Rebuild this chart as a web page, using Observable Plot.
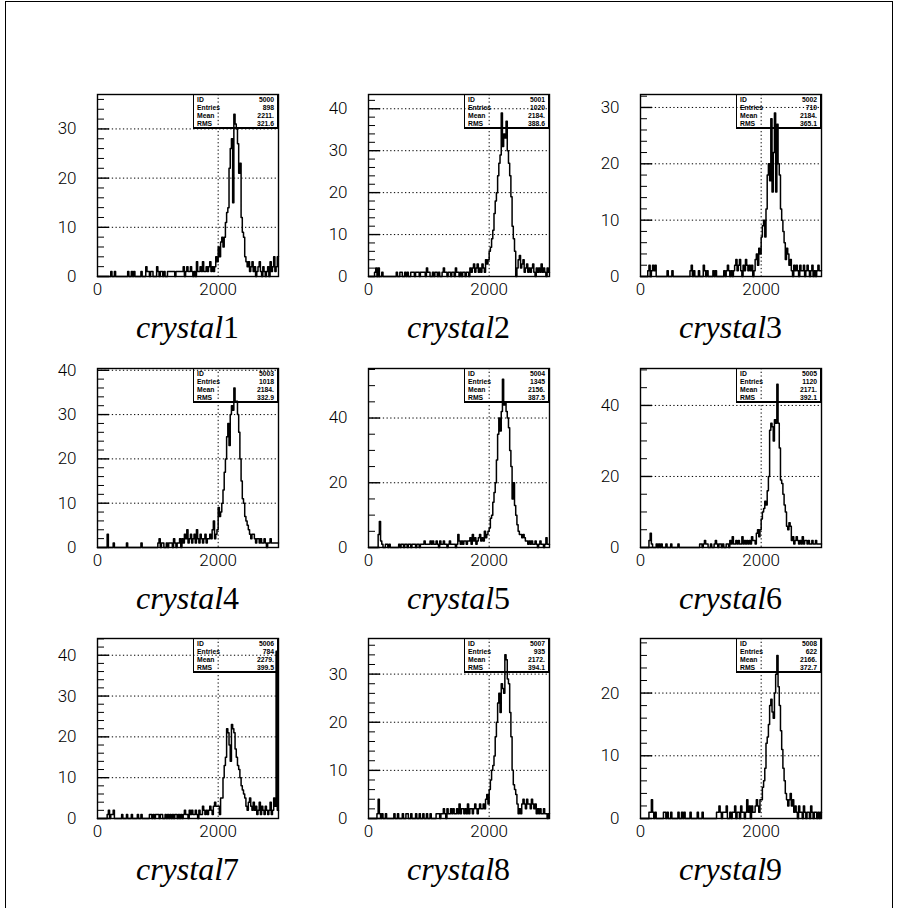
<!DOCTYPE html>
<html><head><meta charset="utf-8">
<script src="https://cdn.jsdelivr.net/npm/d3@7"></script>
<script src="https://cdn.jsdelivr.net/npm/@observablehq/plot@0.6"></script>
<style>
body{margin:0;background:#fff;}
#root{position:relative;width:898px;height:908px;overflow:hidden;background:#fff;}
.border{position:absolute;left:5px;top:1px;width:888px;height:940px;border:1px solid #000;box-sizing:border-box;}
.pl{position:absolute;z-index:2;}
.stats{position:absolute;z-index:1;border:1.2px solid #000;border-bottom-width:2px;background:#fff;box-sizing:border-box;font:bold 6.8px "Liberation Sans",Arial,sans-serif;padding-top:1px;color:#000;}
.stats div{display:flex;justify-content:space-between;height:8px;line-height:8px;padding:0 3px 0 3px;}
.lab{position:absolute;z-index:3;font:32px "Liberation Serif","Times New Roman",serif;text-align:center;width:240px;line-height:32px;white-space:nowrap;color:#000;}
.lab i{font-style:italic;}
</style></head>
<body>
<div id="root"><div class="border"></div></div>
<script>
// bin width 20, range 0..3000 (150 bins)
const binWidth = 20;
const counts1 = [
0,0,0,0,0,0,0,0,0,0, 0,1,0,0,1,0,0,0,0,0, 0,0,0,0,0,1,0,0,1,0, 1,0,0,0,0,0,1,0,0,0, 2,1,1,0,1,1,0,0,0,2,
1,0,1,1,0,1,0,0,1,1, 1,1,1,1,0,1,1,1,1,1, 1,2,0,1,2,1,1,2,1,0, 1,0,3,1,1,2,1,3,1,1, 2,1,2,3,1,2,1,2,4,3,
6,4,7,8,6,8,11,13,14,22, 26,28,15,33,31,30,27,21,23,12, 9,8,4,3,2,3,1,2,3,1, 2,0,1,2,3,1,0,2,1,0, 1,2,0,3,1,2,4,1,2,4];
const counts2 = [
0,0,0,0,0,1,2,0,2,0, 0,1,0,0,0,0,0,0,0,0, 0,0,0,1,0,0,1,1,0,0, 1,0,1,0,0,1,1,1,0,1, 1,1,0,1,1,1,1,0,2,1,
1,0,0,1,0,1,1,0,1,0, 0,1,2,1,1,0,1,1,0,1, 1,0,2,1,1,0,1,0,1,1, 0,1,1,0,2,1,2,3,1,2, 3,1,2,1,3,2,1,4,3,4,
6,7,9,11,15,18,20,24,27,29, 39,31,34,33,37,30,27,24,19,12, 9,6,0,2,4,5,2,3,4,1, 2,3,1,2,1,2,3,1,0,2, 1,2,1,3,1,2,1,0,2,1];
const counts3 = [
0,0,0,0,0,0,1,2,0,1, 2,1,2,0,0,0,0,0,0,0, 0,0,1,0,0,0,1,0,0,0, 0,0,0,0,0,0,0,0,0,0, 0,1,2,0,1,0,0,0,1,0,
0,0,2,1,0,1,0,0,0,0, 1,0,1,0,0,0,0,0,0,1, 0,1,2,1,0,1,0,1,2,3, 1,2,3,1,0,2,1,3,2,1, 2,1,2,0,1,3,4,2,5,4,
7,9,10,7,12,18,20,17,28,15, 22,29,15,27,20,18,12,10,8,6, 3,5,4,2,3,1,0,2,1,2, 1,0,2,1,1,2,0,1,2,1, 0,1,2,0,1,0,1,2,1,1];
const counts4 = [
0,0,0,0,0,0,0,0,3,0, 0,0,0,1,0,0,0,0,0,0, 0,0,0,0,1,0,0,0,0,0, 0,0,0,0,0,0,1,0,0,0, 0,0,0,0,0,0,0,0,0,0,
1,2,0,1,1,0,0,1,0,1, 1,1,0,2,1,0,1,1,2,0, 2,1,3,2,4,1,2,3,1,2, 3,1,4,2,1,3,2,1,2,3, 1,2,2,3,2,4,6,2,3,4,
9,7,8,10,13,17,20,25,28,23, 30,32,31,36,33,33,30,26,20,15, 11,10,7,6,5,4,3,2,3,3, 2,1,2,2,1,2,1,1,2,1, 0,1,1,2,1,1,1,1,1,1];
const counts5 = [
0,0,0,0,0,0,0,0,4,8, 2,1,0,0,1,1,0,1,0,0, 0,0,0,0,0,1,0,1,1,0, 1,1,0,1,1,0,1,1,1,0, 1,1,0,1,1,1,2,1,1,1,
1,2,1,2,1,1,2,1,0,2, 1,1,2,1,1,0,1,2,1,1, 1,1,0,1,4,2,1,2,1,2, 2,1,2,2,3,1,4,2,3,1, 2,3,4,2,3,2,5,3,4,5,
6,9,10,14,17,20,27,35,40,36, 42,52,44,45,42,40,37,30,25,15, 20,13,10,7,5,4,4,3,4,3, 2,2,1,2,1,2,1,1,2,1, 0,1,2,1,1,0,1,3,1,1];
const counts6 = [
0,0,0,0,0,0,0,2,4,1, 0,0,0,1,0,1,0,1,0,0, 0,1,0,0,0,1,0,0,0,0, 0,1,0,0,0,0,0,0,0,0, 0,0,0,0,0,0,0,0,0,1,
1,0,1,2,1,1,0,0,1,0, 0,1,2,1,0,1,1,0,1,0, 0,1,1,0,2,1,3,1,1,2, 1,2,1,1,3,1,2,1,2,1, 2,1,3,2,2,1,4,5,3,5,
8,10,11,13,12,16,20,33,35,34, 30,36,35,46,35,28,19,18,15,12, 10,6,5,7,6,2,3,1,2,3, 2,1,2,1,3,1,2,2,1,2, 1,1,2,1,1,2,1,1,1,1];
const counts7 = [
0,0,0,0,0,0,0,0,1,2, 0,1,1,2,0,0,0,0,0,0, 1,0,0,0,1,0,0,0,1,0, 0,0,0,1,0,0,1,0,0,0, 0,0,0,1,1,0,1,0,1,1,
1,0,1,1,0,0,1,0,1,0, 1,0,1,0,1,1,0,1,0,1, 0,1,2,1,1,0,2,1,2,1, 1,2,1,0,2,1,1,3,2,1, 2,1,2,3,2,1,3,4,3,3,
3,1,5,5,10,13,15,22,21,18, 14,23,22,21,17,15,13,12,10,8, 7,6,5,3,2,4,5,3,2,4, 2,3,1,2,4,1,3,2,1,3, 2,1,2,4,1,2,5,3,41,2];
const counts8 = [
0,0,0,0,0,0,0,1,4,1, 0,1,0,0,1,0,0,0,0,0, 0,1,0,0,1,0,0,0,1,0, 0,1,1,0,0,1,0,0,0,1, 0,0,1,0,0,1,0,0,1,0,
0,1,0,0,0,0,1,1,1,0, 1,1,2,1,0,2,1,1,2,1, 2,1,1,2,1,3,1,2,2,1, 2,1,3,1,2,2,1,2,3,2, 1,2,3,2,2,3,2,4,5,3,
6,8,10,11,13,17,20,24,26,22, 28,27,26,34,33,29,28,22,17,10, 7,6,5,3,1,2,1,3,4,3, 2,4,3,3,2,4,3,2,3,1, 2,1,2,1,1,2,1,1,0,1];
const counts9 = [
0,0,0,0,0,0,0,1,1,3, 1,0,1,0,0,0,0,0,0,1, 1,0,1,0,0,1,0,0,0,0, 0,1,0,0,1,0,1,0,0,0, 0,1,0,0,0,0,0,1,0,0,
0,1,0,0,0,0,0,0,0,0, 0,0,0,1,1,2,1,0,1,1, 1,2,0,0,1,0,1,1,2,0, 1,1,0,2,1,1,0,1,3,1, 2,0,2,1,1,2,3,2,1,3,
3,5,6,8,12,13,15,18,19,17, 16,20,23,26,21,18,14,11,8,6, 4,3,2,3,4,2,3,1,2,1, 0,2,1,1,0,2,1,0,1,1, 0,2,1,0,1,1,0,1,0,1];

const allCounts = [counts1,counts2,counts3,counts4,counts5,counts6,counts7,counts8,counts9];
const ids = ["5000","5001","5002","5003","5004","5005","5006","5007","5008"];
const entries = ["898","1020","710","1018","1345","1120","784","935","622"];
const means = ["2211.","2184.","2184.","2184.","2156.","2171.","2279.","2172.","2166."];
const rmss = ["321.6","388.6","365.1","332.9","387.5","392.1","399.5","394.1","372.7"];
const labels = ["1","2","3","4","5","6","7","8","9"];
const yMax = [37, 43.4, 32.3, 40.4, 55.3, 50.4, 44.1, 37.4, 28.7];
const yMajor = [10,10,10,10,20,20,10,10,10];
const yMinor = [2,2,2,2,5,5,2,2,2];
const xTicks = [0, 2000];
const xDomain = [0, 3000];

const root = document.getElementById("root");
const colX = [97, 368, 640];
const rowY = [94, 368, 638];
const rowH = [182, 179, 180];
const FW = 181;
const ML = 50, MT = 10, MR = 12, MB = 30;

allCounts.forEach((counts, k) => {
  const r = Math.floor(k / 3);
  const fx = colX[k % 3], fy = rowY[r], FH = rowH[r];
  const pts = counts.map((c, i) => ({x: i * binWidth, y: c}));
  pts.push({x: counts.length * binWidth, y: counts[counts.length - 1]});
  const major = d3.range(0, yMax[k] + 1e-9, yMajor[k]);
  const minor = d3.range(0, yMax[k], yMinor[k]).filter(v => v % yMajor[k] !== 0);

  // stats box (under the plot)
  const st = document.createElement("div");
  st.className = "stats";
  Object.assign(st.style, {left: (fx + FW - 85) + "px", top: fy + "px", width: "85px", height: "35px"});
  [["ID", ids[k]], ["Entries", entries[k]], ["Mean", means[k]], ["RMS", rmss[k]]].forEach(([a, b]) => {
    const row = document.createElement("div");
    row.innerHTML = `<span>${a}</span><span>${b}</span>`;
    st.appendChild(row);
  });
  root.appendChild(st);

  const svg = Plot.plot({
    width: FW + ML + MR, height: FH + MT + MB,
    marginLeft: ML, marginTop: MT, marginRight: MR, marginBottom: MB,
    style: {background: "transparent", fontFamily: "Roboto, 'Liberation Sans', sans-serif", fontSize: "17px", fontWeight: 300, color: "#000", overflow: "visible"},
    x: {domain: xDomain, ticks: xTicks, tickSize: 0, tickPadding: 6, tickFormat: d3.format("d"), label: null},
    y: {domain: [0, yMax[k]], ticks: major, tickSize: 0, tickPadding: 21, tickFormat: d3.format("d"), label: null},
    marks: [
      Plot.ruleY(major.filter(v => v > 0), {stroke: "#000", strokeWidth: 1, strokeDasharray: "1.3,2.4"}),
      Plot.ruleX([2000], {stroke: "#000", strokeWidth: 1, strokeDasharray: "1.3,2.4"}),
      Plot.tickY(major, {stroke: "#000", strokeWidth: 1.4, insetRight: FW - 12}),
      Plot.tickY(minor, {stroke: "#000", strokeWidth: 1, insetRight: FW - 7}),
      Plot.line(pts, {x: "x", y: "y", curve: "step-after", stroke: "#000", strokeWidth: 1.5}),
      Plot.frame({stroke: "#000", strokeWidth: 1.4})
    ]
  });
  svg.classList.add("pl");
  svg.style.position = "absolute";
  svg.style.left = (fx - ML) + "px";
  svg.style.top = (fy - MT) + "px";
  root.appendChild(svg);

  const lab = document.createElement("div");
  lab.className = "lab";
  lab.style.left = (fx + FW / 2 - 120) + "px";
  lab.style.top = (fy + FH + 51 - 16) + "px";
  lab.innerHTML = `<i>crystal</i>${labels[k]}`;
  root.appendChild(lab);
});
</script>
</body></html>
